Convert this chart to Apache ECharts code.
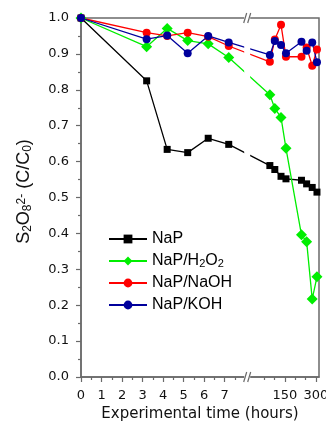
<!DOCTYPE html>
<html>
<head>
<meta charset="utf-8">
<script src="https://cdn.jsdelivr.net/npm/echarts@6/dist/echarts.min.js"></script>
<style>
  html, body { margin: 0; padding: 0; background: #fff; }
  #chart { width: 326px; height: 421px; }
</style>
</head>
<body>
<div id="chart"></div>
<script>
// experimental time (hours), shared by all series
const times = [0, 3.2, 4.2, 5.2, 6.2, 7.2, 77, 101, 131, 155, 230, 255, 282, 305]

const nap = [1.0, 0.825, 0.634, 0.625, 0.665, 0.648, 0.589, 0.578, 0.559, 0.552, 0.548, 0.538, 0.528, 0.515]
const napH2O2 = [1.0, 0.920, 0.971, 0.937, 0.928, 0.890, 0.786, 0.748, 0.723, 0.637, 0.396, 0.377, 0.217, 0.279]
const napNaOH = [1.0, 0.959, 0.950, 0.959, 0.948, 0.922, 0.878, 0.940, 0.981, 0.892, 0.892, 0.918, 0.867, 0.912]
const napKOH = [1.0, 0.941, 0.951, 0.902, 0.950, 0.932, 0.897, 0.936, 0.925, 0.902, 0.934, 0.909, 0.932, 0.877]

const majorTicks = [0, 1, 2, 3, 4, 5, 6, 7, 150, 300]
const minorTicks = [0.5, 1.5, 2.5, 3.5, 4.5, 5.5, 6.5, 7.5, 50, 100, 200, 250]

// broken x axis: 0-8 h linear, then the long-time part squeezed
const BREAK_H = 8
const BREAK_U = 8.1   // where the // marks sit
const X_MAX = 11.6
function toAxis(h) {
  if (h <= BREAK_H) return h
  return 9.94 + (h - 150) * 0.01007
}

const majorU = majorTicks.map(toAxis)
const minorU = minorTicks.map(toAxis)

const tickFont = { fontFamily: 'DejaVu Sans', fontSize: 13, color: '#111' }
const axisColor = '#6a6a6a'

function makeSeries(name, values, color, symbol, size) {
  return {
    name: name,
    type: 'line',
    data: times.map((t, i) => [toAxis(t), values[i]]),
    symbol: symbol,
    symbolSize: size,
    color: color,
    lineStyle: { width: 1.3, color: color },
    itemStyle: { color: color },
    animation: false
  }
}

const chart = echarts.init(document.getElementById('chart'))
chart.setOption({
  backgroundColor: '#fff',
  animation: false,
  grid: {
    left: 81, right: 7, top: 18, bottom: 44,
    outerBoundsMode: 'none',
    show: true, borderColor: axisColor, borderWidth: 1.5
  },
  legend: {
    orient: 'vertical',
    left: 103,
    top: 226,
    itemWidth: 38,
    itemHeight: 11,
    itemGap: 6,
    data: ['NaP', 'NaP/H2O2', 'NaP/NaOH', 'NaP/KOH'],
    formatter: function (name) {
      return name === 'NaP/H2O2' ? 'NaP/H{sub|2}O{sub|2}' : name
    },
    textStyle: {
      fontFamily: 'Liberation Sans', fontSize: 16, color: '#000', lineHeight: 16,
      rich: {
        sub: { fontFamily: 'Liberation Sans', fontSize: 11, lineHeight: 7, verticalAlign: 'bottom', color: '#000' }
      }
    }
  },
  xAxis: [{
    type: 'value',
    min: 0, max: X_MAX,
    position: 'bottom',
    splitLine: { show: false },
    axisLine: { lineStyle: { color: axisColor, width: 1.5 } },
    axisTick: { customValues: majorU, length: 5, lineStyle: { color: axisColor, width: 1.2 } },
    axisLabel: {
      customValues: majorU,
      margin: 12,
      ...tickFont,
      formatter: function (v) {
        const i = majorU.findIndex(u => Math.abs(u - v) < 1e-6)
        return i < 0 ? '' : String(majorTicks[i])
      }
    },
    name: 'Experimental time (hours)',
    nameLocation: 'middle',
    nameGap: 29,
    nameTextStyle: { fontFamily: 'DejaVu Sans', fontSize: 15, color: '#111' }
  }, {
    type: 'value',
    min: 0, max: X_MAX,
    position: 'bottom',
    splitLine: { show: false },
    axisLine: { show: false },
    axisTick: { customValues: minorU, length: 3, lineStyle: { color: axisColor, width: 1.2 } },
    axisLabel: { show: false }
  }],
  yAxis: {
    type: 'value',
    min: 0, max: 1, interval: 0.1,
    splitLine: { show: false },
    axisLine: { show: true, lineStyle: { color: axisColor, width: 1.5 } },
    axisTick: { show: true, length: 5, lineStyle: { color: axisColor, width: 1.2 } },
    minorTick: { show: true, splitNumber: 2, length: 3, lineStyle: { color: axisColor, width: 1.2 } },
    axisLabel: {
      margin: 12,
      ...tickFont,
      formatter: v => v.toFixed(1)
    },
    name: '{n|S}{sub|2}{n|O}{sub|8}{sup|2-}{n| (C/C}{sub|0}{n|)}',
    nameLocation: 'middle',
    nameRotate: 90,
    nameGap: 42,
    nameTextStyle: {
      padding: [0, 0, 0, 12],
      rich: {
        n: { fontFamily: 'Liberation Sans', fontSize: 18, lineHeight: 18, color: '#111' },
        sub: { fontFamily: 'Liberation Sans', fontSize: 12, lineHeight: 12, verticalAlign: 'bottom', padding: [10, 0, 0, 0], color: '#111' },
        sup: { fontFamily: 'Liberation Sans', fontSize: 12, lineHeight: 12, verticalAlign: 'top', padding: [0, 0, 10, 0], color: '#111' }
      }
    }
  },
  series: [
    makeSeries('NaP', nap, '#000000', 'rect', 7),
    makeSeries('NaP/H2O2', napH2O2, '#00ee00', 'diamond', 11),
    makeSeries('NaP/NaOH', napNaOH, '#ff0000', 'circle', 8),
    makeSeries('NaP/KOH', napKOH, '#00009c', 'circle', 8)
  ]
})

// axis break: white gap across the plot and // marks on top and bottom
const breakTop = chart.convertToPixel({ gridIndex: 0 }, [BREAK_U, 1])
const breakBot = chart.convertToPixel({ gridIndex: 0 }, [BREAK_U, 0])
const bx = breakTop[0]
function slashes(y) {
  return [-2, 2].map(dx => ({
    type: 'line', z: 101,
    shape: { x1: bx + dx - 1.5, y1: y + 5, x2: bx + dx + 1.5, y2: y - 5 },
    style: { stroke: axisColor, lineWidth: 1.2 }
  }))
}
chart.setOption({
  graphic: [
    { type: 'rect', z: 100, shape: { x: bx - 3, y: breakTop[1] - 2, width: 6, height: breakBot[1] - breakTop[1] + 4 }, style: { fill: '#fff' } }
  ].concat(slashes(breakTop[1]), slashes(breakBot[1]))
})
</script>
</body>
</html>
